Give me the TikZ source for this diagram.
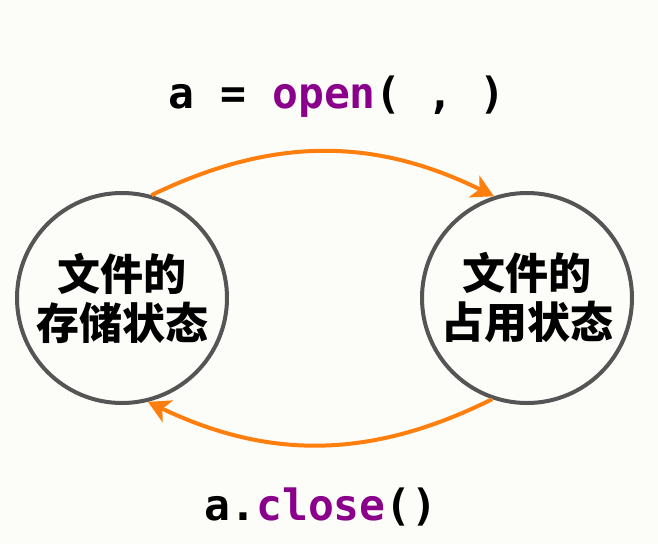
\documentclass[tikz,border=0pt]{standalone}
\usepackage{tikz}
\usetikzlibrary{shapes,arrows,arrows.meta,positioning,calc}
\usepackage{fontspec}
\usepackage{xcolor}
\newfontfamily\cjk[BoldFont={Noto Sans CJK SC Black}]{Noto Sans CJK SC}
\newfontfamily\code{DejaVu Sans Mono}
\definecolor{bgwhite}{RGB}{252,252,249}
\definecolor{ringgray}{RGB}{85,85,85}
\definecolor{flowgorange}{RGB}{255,127,14}
\definecolor{codepurple}{RGB}{139,0,139}

\begin{document}
\begin{tikzpicture}[x=1pt, y=-1pt,
        state/.style={circle, draw=ringgray, line width=4pt, minimum size=210pt, inner sep=0pt,
                      font=\cjk\bfseries\fontsize{43}{49}\selectfont, align=center},
        flow/.style={->, draw=flowgorange, line width=4pt, >={Stealth[length=22pt,width=24pt,inset=6pt]}},
        codetext/.style={anchor=base, font=\code\bfseries\fontsize{43}{50}\selectfont}
    ]
        % Background
        \fill[bgwhite] (0,0) rectangle (658,544);
        \useasboundingbox (0,0) rectangle (658,544);

        % States
        \node[state] (storestate) at (122,298) {文件的\\存储状态};
        \node[state] (openstate) at (527,298) {文件的\\占用状态};

        % Transitions
        \draw[flow] (storestate.74) to[bend left=26] (openstate.108);
        \draw[flow] (openstate.-109) to[bend left=26] (storestate.-76);

        % Labels
        \node[codetext] (openlabel) at (337,108) {a = \textcolor{codepurple}{open}( , )};
        \node[codetext] (closelabel) at (321,520) {a.\textcolor{codepurple}{close}()};

    \end{tikzpicture}
\end{document}
